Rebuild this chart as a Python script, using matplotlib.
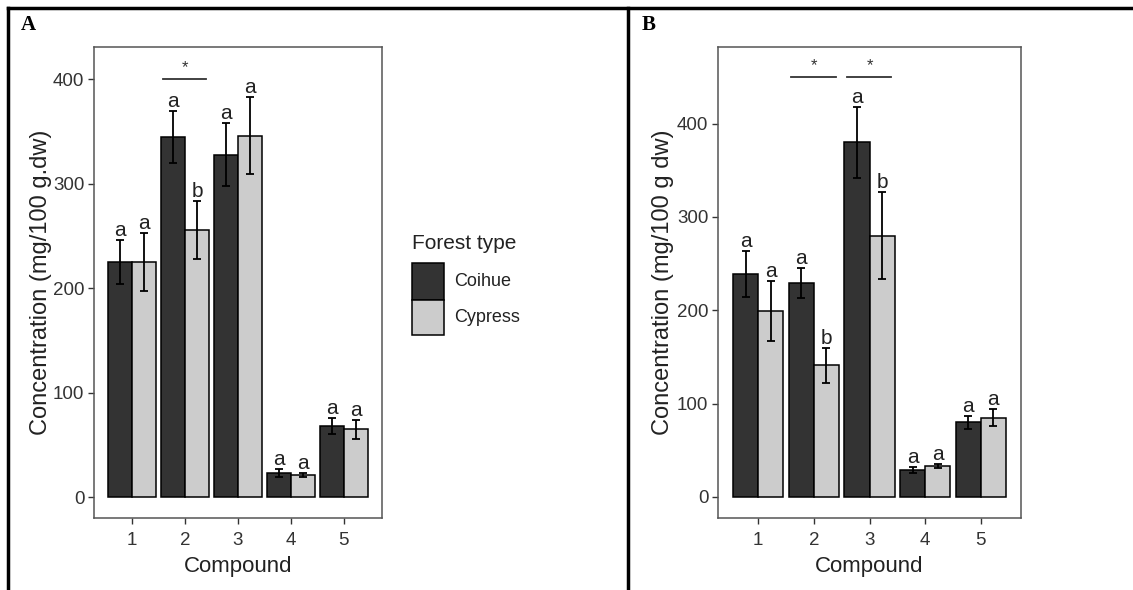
import matplotlib
matplotlib.use('Agg')
import matplotlib.pyplot as plt
from matplotlib.patches import Rectangle
from matplotlib.lines import Line2D
import numpy as np

plt.rcParams['font.family'] = ['Liberation Sans', 'DejaVu Sans']

compounds = ['1', '2', '3', '4', '5']
forest_types = ['Coihue', 'Cypress']
colors = ['#333333', '#cccccc']

# panel A
a_coihue = [225, 345, 328, 23, 68]
a_coihue_se = [21, 25, 30, 4, 8]
a_cypress = [225, 256, 346, 21, 65]
a_cypress_se = [28, 28, 37, 2, 9]
a_letters_coihue = ['a', 'a', 'a', 'a', 'a']
a_letters_cypress = ['a', 'b', 'a', 'a', 'a']
a_sig = [(2, 400)]

# panel B
b_coihue = [239, 229, 380, 29, 80]
b_coihue_se = [25, 16, 38, 3, 7]
b_cypress = [199, 141, 280, 33, 85]
b_cypress_se = [32, 19, 47, 2, 9]
b_letters_coihue = ['a', 'a', 'a', 'a', 'a']
b_letters_cypress = ['a', 'b', 'b', 'a', 'a']
b_sig = [(2, 450), (3, 450)]

W, H = 1133, 590
fig = plt.figure(figsize=(W / 100, H / 100), dpi=100)


def px_axes(left, right, top, bottom):
    return fig.add_axes([left / W, 1 - bottom / H, (right - left) / W, (bottom - top) / H])


def draw_panel(ax, coihue, coihue_se, cypress, cypress_se, let_c, let_y, sig, ylim, ylabel):
    x = np.arange(1, len(compounds) + 1)
    w = 0.45
    series = [(coihue, coihue_se, let_c, -w / 2), (cypress, cypress_se, let_y, w / 2)]
    for i, (vals, se, letters, off) in enumerate(series):
        ax.bar(x + off, vals, width=w, color=colors[i], edgecolor='black', linewidth=1.1, zorder=2)
        ax.errorbar(x + off, vals, yerr=se, fmt='none', ecolor='black', elinewidth=1.3,
                    capsize=3, capthick=1.3, zorder=3)
        for xi, v, s, t in zip(x + off, vals, se, letters):
            ax.annotate(t, (xi, v + s), xytext=(0, 0), textcoords='offset points',
                        ha='center', va='bottom', fontsize=15, color='#222222')
    for c, y in sig:
        ax.plot([c - 0.41, c + 0.39], [y, y], color='#333333', lw=1.3)
        ax.annotate('*', (c, y), xytext=(0, 3), textcoords='offset points',
                    ha='center', va='bottom', fontsize=12, color='#333333')
    ax.set_xlim(0.28, 5.72)
    ax.set_ylim(*ylim)
    ax.set_xticks(x)
    ax.set_xticklabels(compounds)
    ax.set_yticks([0, 100, 200, 300, 400])
    ax.tick_params(labelsize=13.5, colors='#333333', length=4, width=1)
    ax.tick_params(axis='x', pad=6)
    ax.tick_params(axis='y', pad=3)
    for s in ax.spines.values():
        s.set_color('#555555')
        s.set_linewidth(1.1)
    ax.set_xlabel('Compound', fontsize=16, color='#222222', labelpad=5)
    ax.set_ylabel(ylabel, fontsize=17, color='#222222')
    ax.yaxis.set_label_coords(-0.145, 0.5)


ax1 = px_axes(94, 382, 47, 518)
draw_panel(ax1, a_coihue, a_coihue_se, a_cypress, a_cypress_se,
           a_letters_coihue, a_letters_cypress, a_sig, (-20, 431),
           'Concentration (mg/100 g.dw)')

ax2 = px_axes(718, 1021, 47, 518)
draw_panel(ax2, b_coihue, b_coihue_se, b_cypress, b_cypress_se,
           b_letters_coihue, b_letters_cypress, b_sig, (-22.5, 482),
           'Concentration (mg/100 g dw)')

# legend (drawn by hand to match the ggplot key layout)
fig.text(412 / W, 1 - 243 / H, 'Forest type', fontsize=15, color='#222222', va='center', ha='left')
key_tops = [263, 300]
key_h = [37, 35]
for i, name in enumerate(forest_types):
    top = key_tops[i]
    fig.add_artist(Rectangle((412 / W, 1 - (top + key_h[i]) / H), 32 / W, key_h[i] / H,
                             transform=fig.transFigure, facecolor=colors[i],
                             edgecolor='black', linewidth=1.1))
    fig.text(454 / W, 1 - (top + key_h[i] / 2) / H, name, fontsize=13, color='#222222',
             va='center', ha='left')

# outer frame and panel labels
frame = dict(transform=fig.transFigure, color='black', lw=2.5)
fig.add_artist(Line2D([8 / W, 1], [1 - 8 / H, 1 - 8 / H], **frame))
fig.add_artist(Line2D([8 / W, 8 / W], [0, 1 - 8 / H], **frame))
fig.add_artist(Line2D([628 / W, 628 / W], [0, 1 - 8 / H], **frame))
fig.text(21 / W, 1 - 25 / H, 'A', fontsize=15, fontweight='bold', family='Liberation Serif',
         va='center', ha='left')
fig.text(642 / W, 1 - 25 / H, 'B', fontsize=15, fontweight='bold', family='Liberation Serif',
         va='center', ha='left')

fig.savefig('out.png', dpi=100)
